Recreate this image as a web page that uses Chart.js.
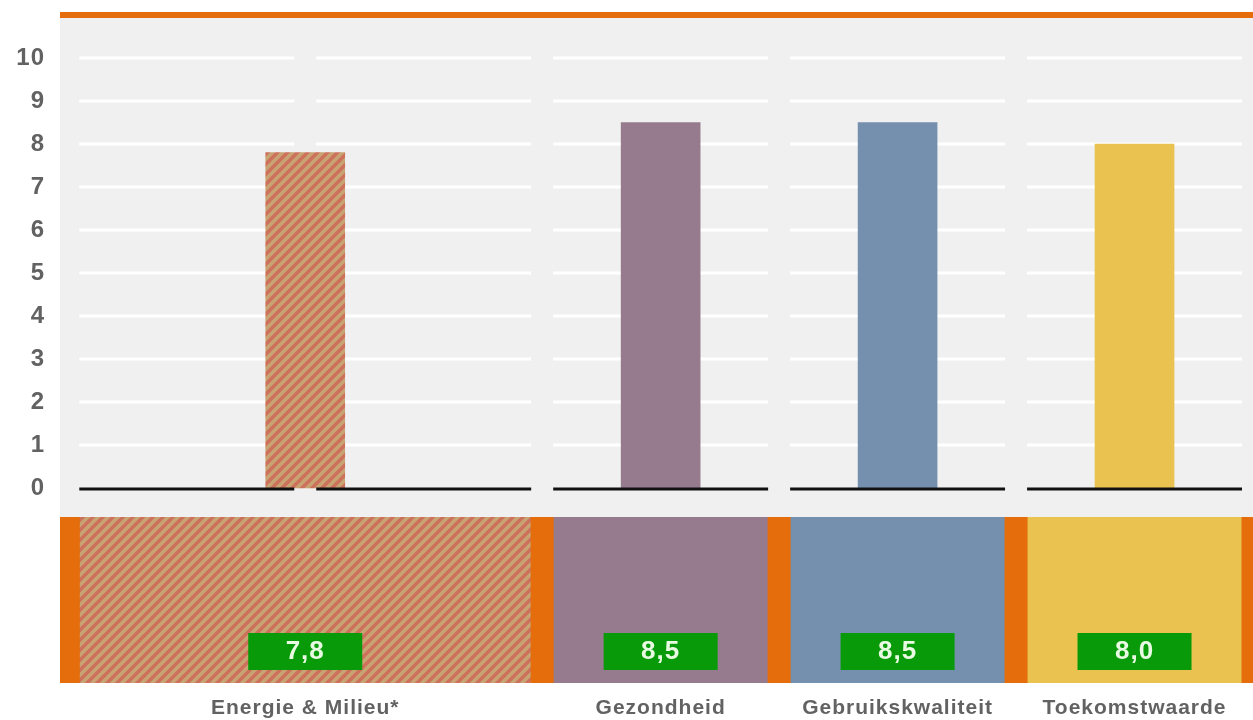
<!DOCTYPE html>
<html>
<head>
<meta charset="utf-8">
<script src="https://cdn.jsdelivr.net/npm/chart.js@4.4.0/dist/chart.umd.min.js"></script>
<style>
    html, body { margin: 0; padding: 0; background: #fff; }
</style>
</head>
<body>
<canvas id="scoreChart" width="1253" height="720"></canvas>
<script>
// --- data -------------------------------------------------------------------
const categories = ['Energie & Milieu*', 'Gezondheid', 'Gebruikskwaliteit', 'Toekomstwaarde'];
const columnSpans = [2, 1, 1, 1];          // Energie & Milieu takes two columns
const scores = [7.8, 8.5, 8.5, 8.0];
const yTicks = [0, 1, 2, 3, 4, 5, 6, 7, 8, 9, 10];

// --- styling ----------------------------------------------------------------
const ORANGE = '#e56d0b';
const GREY_BG = '#f0f0f0';
const GREEN = '#089a08';
const TEXT = '#626262';

function hatch() {
    const c = document.createElement('canvas');
    c.width = 10; c.height = 10;
    const g = c.getContext('2d');
    g.fillStyle = '#c9a473';
    g.fillRect(0, 0, 10, 10);
    g.strokeStyle = '#cd715d';
    g.lineWidth = 3.5;
    [[-5, 5, 5, -5], [0, 10, 10, 0], [5, 15, 15, 5]].forEach(([a, b, d, e]) => {
        g.beginPath(); g.moveTo(a, b); g.lineTo(d, e); g.stroke();
    });
    return g.createPattern(c, 'repeat');
}
const HATCH = hatch();
const fills = [HATCH, '#967b8e', '#7590ae', '#e9c24f'];

// centre of every category on a column axis (column i spans i-0.5 .. i+0.5)
const centers = [];
let col = 0;
columnSpans.forEach(s => { centers.push(col + s / 2 - 0.5); col += s; });
const totalCols = col;

const fmt = v => v.toFixed(1).replace('.', ',');

const decor = {
    id: 'decor',
    beforeDraw(chart) {
        const { ctx, chartArea: a, scales: { y } } = chart;
        ctx.letterSpacing = '1px';
        const zeroY = y.getPixelForValue(0);
        ctx.save();
        ctx.fillStyle = '#fff';
        ctx.fillRect(0, 0, chart.width, chart.height);
        ctx.fillStyle = GREY_BG;
        ctx.fillRect(a.left, a.top, a.right - a.left, zeroY + 29 - a.top);
        ctx.fillStyle = ORANGE;
        ctx.fillRect(a.left, a.top, a.right - a.left, 6);
        ctx.restore();
    },
    beforeDatasetsDraw(chart) {
        const { ctx, chartArea: a, scales: { x, y } } = chart;
        const zeroY = y.getPixelForValue(0);
        ctx.save();
        // white grid lines, broken at every column edge
        ctx.strokeStyle = '#ffffff';
        ctx.lineWidth = 3;
        yTicks.filter(t => t > 0).forEach(t => {
            const py = y.getPixelForValue(t);
            for (let c = 0; c < totalCols; c++) {
                ctx.beginPath();
                ctx.moveTo(x.getPixelForValue(c - 0.5) + 11, py);
                ctx.lineTo(x.getPixelForValue(c + 0.5) - 11, py);
                ctx.stroke();
            }
        });
        // coloured panels under the axis
        const top = zeroY + 29;
        ctx.fillStyle = ORANGE;
        ctx.fillRect(a.left, top, a.right - a.left, a.bottom - top);
        let start = -0.5;
        columnSpans.forEach((s, i) => {
            const l = x.getPixelForValue(start) + 11.5;
            const r = x.getPixelForValue(start + s) - 11.5;
            ctx.fillStyle = fills[i];
            ctx.fillRect(l, top, r - l, a.bottom - top);
            start += s;
        });
        ctx.restore();
    },
    afterDatasetsDraw(chart) {
        const { ctx, chartArea: a, scales: { x, y } } = chart;
        const zeroY = y.getPixelForValue(0);
        ctx.save();
        ctx.strokeStyle = '#111';
        ctx.lineWidth = 3;
        for (let c = 0; c < totalCols; c++) {
            ctx.beginPath();
            ctx.moveTo(x.getPixelForValue(c - 0.5) + 11, zeroY + 1);
            ctx.lineTo(x.getPixelForValue(c + 0.5) - 11, zeroY + 1);
            ctx.stroke();
        }
        // green score boxes
        ctx.font = 'bold 26px "Liberation Sans", Arial, sans-serif';
        ctx.textAlign = 'center';
        ctx.textBaseline = 'middle';
        scores.forEach((v, i) => {
            const cx = x.getPixelForValue(centers[i]);
            ctx.fillStyle = GREEN;
            ctx.fillRect(cx - 57, a.bottom - 50, 114, 37);
            ctx.fillStyle = '#e8fbe2';
            ctx.fillText(fmt(v), cx, a.bottom - 31);
        });
        ctx.restore();
    }
};

new Chart(document.getElementById('scoreChart'), {
    type: 'bar',
    data: {
        datasets: [{
            data: scores.map((v, i) => ({ x: centers[i], y: v })),
            backgroundColor: fills,
            borderWidth: 0,
            barThickness: 79
        }]
    },
    options: {
        responsive: false,
        animation: false,
        layout: { padding: { top: 12, left: 0, right: 0, bottom: 0 } },
        plugins: { legend: { display: false }, tooltip: { enabled: false } },
        scales: {
            x: {
                type: 'linear',
                offset: false,
                min: -0.535,
                max: 4.5,
                afterBuildTicks: axis => { axis.ticks = centers.map(v => ({ value: v })); },
                afterFit: axis => { axis.height = 37; axis.paddingLeft = 0; axis.paddingRight = 0; },
                grid: { display: false, drawTicks: false, offset: false },
                border: { display: false },
                ticks: {
                    autoSkip: false,
                    maxRotation: 0,
                    padding: 13,
                    color: TEXT,
                    font: { family: '"Liberation Sans", Arial, sans-serif', size: 21, weight: 'bold' },
                    callback: (v, i) => categories[i]
                }
            },
            y: {
                min: -4.535,
                max: 11.07,
                afterBuildTicks: axis => { axis.ticks = yTicks.map(v => ({ value: v })); },
                afterFit: axis => { axis.width = 60; axis.paddingTop = 0; axis.paddingBottom = 0; },
                grid: { display: false, drawTicks: false },
                border: { display: false },
                ticks: {
                    padding: 15,
                    color: TEXT,
                    font: { family: '"Liberation Sans", Arial, sans-serif', size: 24, weight: 'bold' }
                }
            }
        }
    },
    plugins: [decor]
});
</script>
</body>
</html>
